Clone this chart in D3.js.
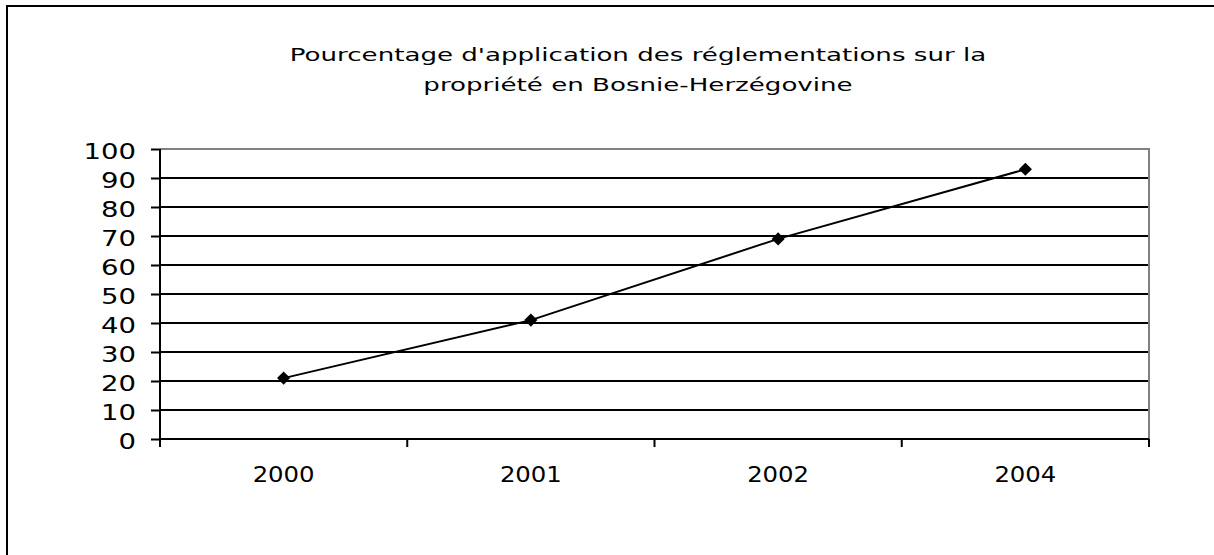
<!DOCTYPE html>
<html><head><meta charset="utf-8">
<script src="https://cdn.jsdelivr.net/npm/d3@7"></script>
<style>html,body{margin:0;background:#fff;overflow:hidden}svg{display:block}text{font-family:"DejaVu Sans",Verdana,sans-serif;fill:#000}</style>
</head><body>
<svg id="c" width="1214" height="555"></svg>
<script>
const categories = ["2000", "2001", "2002", "2004"];
const values = [21, 41, 69, 93];
const yTicks = [0, 10, 20, 30, 40, 50, 60, 70, 80, 90, 100];
const titleLines = ["Pourcentage d'application des réglementations sur la", "propriété en Bosnie-Herzégovine"];

const svg = d3.select("#c");
const L = 160, R = 1149, T = 149, B = 439;

function stretch(sel, k) {
  sel.each(function () {
    const w = this.getComputedTextLength();
    d3.select(this).attr("textLength", w * k).attr("lengthAdjust", "spacingAndGlyphs");
  });
}

// outer frame (only top and left edges fall inside the picture)
svg.append("path").attr("d", "M7,560V6H1220")
  .attr("fill", "none").attr("stroke", "#000").attr("stroke-width", 2);

const x = d3.scaleBand().domain(categories).range([L, R]);
const y = d3.scaleLinear().domain([0, 100]).range([B, T]);

// gridlines
svg.append("g").selectAll("line").data(yTicks.filter(d => d > 0 && d < 100)).join("line")
  .attr("x1", L).attr("x2", R).attr("y1", d => y(d)).attr("y2", d => y(d))
  .attr("stroke", "#000").attr("stroke-width", 2);

// plot frame top/right gray
svg.append("path").attr("d", `M${L},${y(100)}H${R}V${B}`).attr("fill", "none")
  .attr("stroke", "#808080").attr("stroke-width", 2);

// y axis
const yAxis = svg.append("g").attr("transform", `translate(${L},0)`)
  .call(d3.axisLeft(y).tickValues(yTicks).tickSize(9).tickPadding(15).tickFormat(d3.format("d")));
yAxis.select(".domain").attr("d", `M0,${T}V${B + 8}`).attr("stroke-width", 2);
yAxis.selectAll(".tick line").attr("stroke-width", 2);
yAxis.selectAll("text").attr("font-size", 22).attr("font-family", "DejaVu Sans").attr("dy", "0.45em");
stretch(yAxis.selectAll("text"), 1.25);

// x axis
const xAxis = svg.append("g").attr("transform", `translate(0,${B})`)
  .call(d3.axisBottom(x).tickSize(0).tickPadding(24));
xAxis.select(".domain").attr("d", `M${L},0H${R}`).attr("stroke-width", 2);
xAxis.selectAll("text").attr("font-size", 21).attr("font-family", "DejaVu Sans").attr("y", 43).attr("dy", 0);
stretch(xAxis.selectAll("text"), 1.16);
xAxis.append("g").selectAll("line").data(categories.slice(1).map(c => x(c)).concat([R])).join("line")
  .attr("x1", d => d).attr("x2", d => d).attr("y1", 0).attr("y2", 8)
  .attr("stroke", "#000").attr("stroke-width", 2);

// line
const pts = categories.map((c, i) => [x(c) + x.bandwidth() / 2, y(values[i])]);
svg.append("path").attr("d", d3.line()(pts)).attr("fill", "none").attr("stroke", "#000").attr("stroke-width", 2);
svg.append("g").selectAll("path").data(pts).join("path")
  .attr("transform", d => `translate(${d[0]},${d[1]})`)
  .attr("d", d3.symbol(d3.symbolDiamond2, 110)()).attr("fill", "#000");

// title
const title = svg.append("g").selectAll("text").data(titleLines).join("text")
  .attr("x", 638).attr("y", (d, i) => 61 + i * 30).attr("text-anchor", "middle")
  .attr("font-size", 18.5).text(d => d);
stretch(title, 1.41);
</script>
</body></html>
